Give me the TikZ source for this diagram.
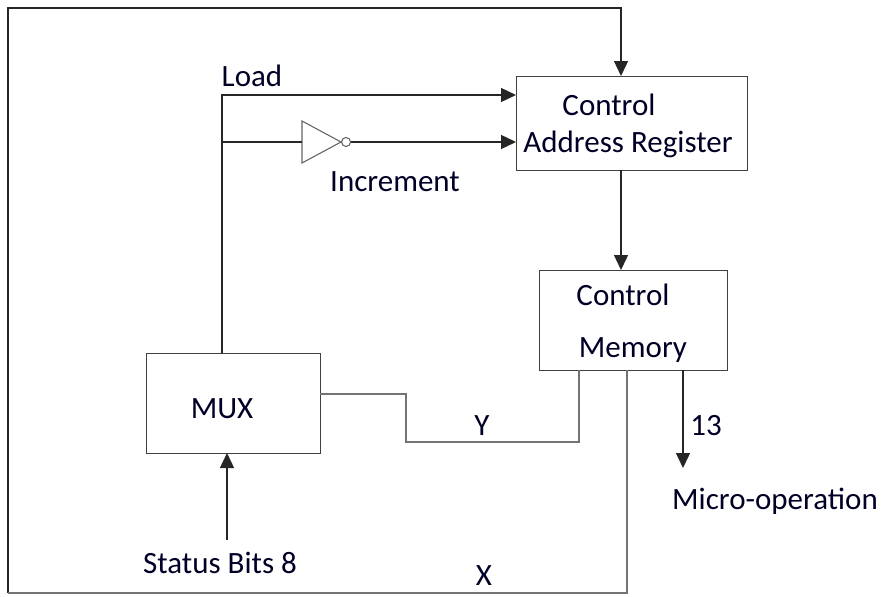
\documentclass[tikz,border=0pt]{standalone}
\usepackage{fontspec}
\setmainfont{Carlito}
\usetikzlibrary{arrows.meta}

\begin{document}
\begin{tikzpicture}[x=1pt,y=-1pt,
  font=\fontsize{31}{36}\selectfont,
  box/.style={draw=black!75, line width=1.3pt, inner sep=0pt, anchor=north west},
  wire/.style={black!85, line width=1.4pt},
  greywire/.style={black!55, line width=1.6pt},
  arrow/.style={wire, -{Triangle[length=15pt,width=14pt]}},
  lbl/.style={inner sep=0pt, text=black!85!blue}]
  \useasboundingbox (0,0) rectangle (884,597);
  % blocks
  \node[box, minimum width=231pt, minimum height=94pt] (car) at (516,76) {};
  \node[box, minimum width=188pt, minimum height=100pt] (cm) at (539,270) {};
  \node[box, minimum width=174pt, minimum height=100pt] (mux) at (146,353) {};
  % inverter
  \coordinate (invin) at (302,142);
  \coordinate (invtip) at (341,142);
  \draw[black!60, line width=1.1pt] (302,121) -- (invtip) -- (302,163) -- cycle;
  \node[draw=black!60, line width=1.1pt, circle, minimum size=9pt, inner sep=0pt, anchor=west] (bub) at (invtip) {};
  % texts
  \node[lbl] (carA) at (609,105) {Control};
  \node[lbl] (carB) at (628,144) {Address Register};
  \node[lbl] (cmA) at (623,295) {Control};
  \node[lbl] (cmB) at (633,350) {Memory};
  \node[lbl] (muxt) at (222,409) {MUX};
  \node[lbl] (load) at (252,76) {Load};
  \node[lbl] (incr) at (395,182) {Increment};
  \node[lbl] (ylbl) at (482,426) {Y};
  \node[lbl] (xlbl) at (484,576) {X};
  \node[lbl] (width) at (706,426) {13};
  \node[lbl] (micro) at (775,501) {Micro-operation};
  \node[lbl] (status) at (220,563) {Status Bits 8};
  % points on the wires
  \coordinate (tl) at (8,8);
  \coordinate (bl) at (8,593);
  \coordinate (carin) at (621,76);
  \coordinate (carout) at (621,170);
  \coordinate (cmin) at (621,270);
  \coordinate (cmx) at (627,370);
  \coordinate (cmy) at (579,370);
  \coordinate (cmop) at (683,370);
  \coordinate (opend) at (683,468);
  \coordinate (muxup) at (222,353);
  \coordinate (split) at (222,142);
  \coordinate (loadin) at (516,95);
  \coordinate (incin) at (516,142);
  \coordinate (muxout) at (320,394);
  \coordinate (jog) at (406,394);
  \coordinate (jogend) at (406,442);
  \coordinate (muxin) at (227,453);
  \coordinate (stin) at (227,540);
  % connections
  \draw[arrow] (bl) -- (tl) -| (carin);
  \draw[greywire] (bl) -| (cmx);
  \draw[arrow] (carout) -- (cmin);
  \draw[arrow] (muxup) |- (loadin);
  \draw[wire] (split) -- (invin);
  \draw[arrow] (bub.east) -- (incin);
  \draw[greywire] (muxout) -- (jog) -- (jogend) -| (cmy);
  \draw[arrow] (cmop) -- (opend);
  \draw[arrow] (stin) -- (muxin);
\end{tikzpicture}
\end{document}
